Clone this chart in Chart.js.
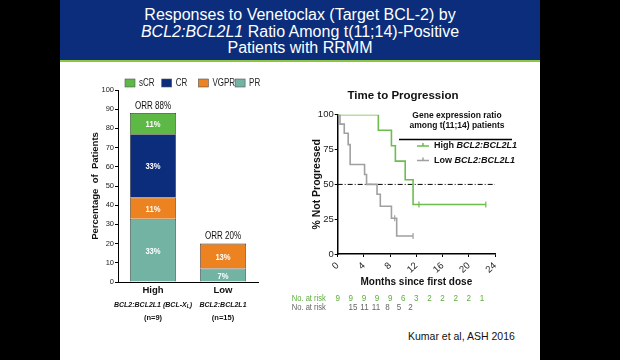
<!DOCTYPE html>
<html>
<head>
<meta charset="utf-8">
<script src="https://cdn.jsdelivr.net/npm/chart.js@4.4.0/dist/chart.umd.min.js"></script>
<style>
  body { margin: 0; background: #000; width: 620px; height: 360px; overflow: hidden; font-family: "Liberation Sans", Arial, sans-serif; }
  #slide { position: absolute; left: 60px; top: 0; width: 480px; height: 360px; background: #fff; }
  #band { position: absolute; left: 0; top: 0; width: 480px; height: 60px; background: #0b2d7b; border-bottom: 2px solid #8dc63f; }
  #title { position: absolute; left: 0; top: 7px; width: 480px; text-align: center; color: #fff; font-size: 16px; line-height: 16.5px; }
  #cite { position: absolute; left: 348px; top: 330px; font-size: 10.5px; color: #111; }
  canvas { position: absolute; }
</style>
</head>
<body>
<div id="slide">
  <div id="band"><div id="title">Responses to Venetoclax (Target BCL-2) by<br><i>BCL2:BCL2L1</i> Ratio Among t(11;14)-Positive<br>Patients with RRMM</div></div>
  <div id="cite">Kumar et al, ASH 2016</div>
</div>
<canvas id="bars" width="262" height="262" style="left:60px;top:70px"></canvas>
<canvas id="ttp" width="255" height="240" style="left:285px;top:80px"></canvas>
<script>
// response bars
const groups = ['High', 'Low'];
const ratioLabels = ['BCL2:BCL2L1 (BCL-X_L)', 'BCL2:BCL2L1'];
const nLabels = ['(n=9)', '(n=15)'];
const prVals = [33, 7];
const vgprVals = [11, 13];
const crVals = [33, 0];
const scrVals = [11, 0];

// time to progression
const highMonths = [0, 6.2, 8.2, 8.8, 10.3, 11.5, 22.6];
const highPct = [100, 88.9, 77.8, 66.7, 53.3, 35.6, 35.6];
const lowMonths = [0, 0.35, 1.0, 1.6, 1.9, 4.1, 4.4, 6.0, 6.5, 8.2, 9.0, 11.5];
const lowPct = [100, 93.3, 86.7, 78.6, 64.3, 57.1, 50, 42.9, 34.3, 25.7, 12.9, 12.9];
const highCensorMonths = [12.4, 22.6];
const highCensorPct = [35.6, 35.6];
const lowCensorMonths = [8.7, 11.5];
const lowCensorPct = [25.7, 12.9];
const riskMonths = [0, 2, 4, 6, 8, 10, 12, 14, 16, 18, 20, 22];
const riskHigh = [9, 9, 9, 9, 9, 6, 3, 2, 2, 2, 2, 1];
const riskLow = [15, 11, 11, 8, 5, 2];

Chart.defaults.font.family = '"Liberation Sans", Arial, sans-serif';
Chart.defaults.color = '#111';

const green = '#6cbd4c';
const gray = '#a0a0a0';

// squeezed text, the slide uses a narrow face
function narrowText(ctx, text, x, y, k) {
  ctx.save();
  ctx.translate(x, y);
  ctx.scale(k || 0.84, 1);
  ctx.fillText(text, 0, 0);
  ctx.restore();
}

// labels inside the bars, ORR on top, legend and sub labels
const barExtras = {
  id: 'barExtras',
  afterDraw(chart) {
    const ctx = chart.ctx;
    const xs = chart.scales.x, ys = chart.scales.y;
    ctx.save();
    ctx.textAlign = 'center';
    ctx.textBaseline = 'middle';
    ctx.font = 'bold 9.5px "Liberation Sans", Arial';
    ctx.fillStyle = '#fff';
    chart.data.datasets.forEach((ds, i) => {
      chart.getDatasetMeta(i).data.forEach((bar, j) => {
        if (!ds.data[j]) return;
        narrowText(ctx, ds.data[j] + '%', bar.x, (bar.y + bar.base) / 2 + 1, 0.8);
      });
    });
    ctx.fillStyle = '#111';
    ctx.font = '10px "Liberation Sans", Arial';
    groups.forEach((g, j) => {
      let total = 0;
      chart.data.datasets.forEach(ds => total += ds.data[j]);
      narrowText(ctx, 'ORR ' + total + '%', xs.getPixelForValue(j), ys.getPixelForValue(total) - 7, 0.8);
    });
    // sub labels
    groups.forEach((g, j) => {
      const x = xs.getPixelForValue(j);
      const parts = ratioLabels[j].split('_');
      ctx.font = 'italic bold 7px "Liberation Sans", Arial';
      const w0 = ctx.measureText(parts[0]).width;
      let w1 = 0, w2 = 0;
      if (parts[1]) {
        ctx.font = 'italic bold 5px "Liberation Sans", Arial';
        w1 = ctx.measureText('L').width;
        ctx.font = 'italic bold 7px "Liberation Sans", Arial';
        w2 = ctx.measureText(')').width;
      }
      const sx = x - (w0 + w1 + w2) / 2;
      ctx.textAlign = 'left';
      ctx.font = 'italic bold 7px "Liberation Sans", Arial';
      ctx.fillText(parts[0], sx, 235);
      if (parts[1]) {
        ctx.font = 'italic bold 5px "Liberation Sans", Arial';
        ctx.fillText('L', sx + w0, 237);
        ctx.font = 'italic bold 7px "Liberation Sans", Arial';
        ctx.fillText(')', sx + w0 + w1, 235);
      }
      ctx.textAlign = 'center';
      ctx.font = 'bold 7.5px "Liberation Sans", Arial';
      ctx.fillText(nLabels[j], x, 248);
    });
    // legend
    const order = chart.data.datasets.slice().reverse();
    ctx.textAlign = 'left';
    ctx.font = '10px "Liberation Sans", Arial';
    order.forEach((ds, k) => {
      const lx = 65 + k * 36.7;
      ctx.fillStyle = ds.backgroundColor;
      ctx.fillRect(lx, 9, 10, 8);
      ctx.strokeStyle = '#555';
      ctx.lineWidth = 0.6;
      ctx.strokeRect(lx, 9, 10, 8);
      ctx.fillStyle = '#222';
      narrowText(ctx, ds.label, lx + 14, 13.5, 0.8);
    });
    ctx.restore();
  }
};

new Chart(document.getElementById('bars'), {
  type: 'bar',
  data: {
    labels: groups,
    datasets: [
      { label: 'PR', data: prVals, backgroundColor: '#72b3a3' },
      { label: 'VGPR', data: vgprVals, backgroundColor: '#ec8220' },
      { label: 'CR', data: crVals, backgroundColor: '#0c2c7c' },
      { label: 'sCR', data: scrVals, backgroundColor: '#5db846' }
    ].map(d => Object.assign(d, { borderColor: '#333', borderWidth: 0.8, barPercentage: 0.66, categoryPercentage: 1 }))
  },
  options: {
    responsive: false,
    animation: false,
    layout: { padding: { left: 30, top: 20, right: 64, bottom: 0 } },
    plugins: { legend: { display: false }, tooltip: { enabled: false } },
    scales: {
      x: {
        stacked: true,
        grid: { display: false, drawTicks: false },
        border: { color: '#000', width: 1 },
        ticks: { font: { size: 9.5, weight: 'bold' }, color: '#111', padding: 3 },
        afterFit(s) { s.height = 50; }
      },
      y: {
        stacked: true,
        min: 0, max: 100,
        grid: { drawOnChartArea: false, tickLength: 3, color: '#000' },
        border: { color: '#000', width: 1 },
        ticks: { stepSize: 10, font: { size: 7.5 }, color: '#222', padding: 1 },
        title: { display: true, text: 'Percentage  of  Patients', font: { size: 9.5, weight: 'bold' }, color: '#111', padding: 0 },
        afterFit(s) { s.width = 28; }
      }
    }
  },
  plugins: [barExtras]
});

// legend box and risk table for the progression chart
const ttpExtras = {
  id: 'ttpExtras',
  afterDraw(chart) {
    const ctx = chart.ctx;
    const xs = chart.scales.x;
    ctx.save();
    ctx.fillStyle = '#111';
    ctx.textAlign = 'center';
    ctx.textBaseline = 'middle';
    ctx.font = 'bold 8.5px "Liberation Sans", Arial';
    ctx.fillText('Gene expression ratio', 172, 36);
    ctx.fillText('among t(11;14) patients', 172, 45.5);
    ctx.strokeStyle = '#000';
    ctx.lineWidth = 1.5;
    ctx.beginPath(); ctx.moveTo(114, 59.5); ctx.lineTo(227, 59.5); ctx.stroke();
    [[green, 'High '], [gray, 'Low ']].forEach((it, k) => {
      const y = 66 + k * 14.5;
      ctx.strokeStyle = it[0];
      ctx.lineWidth = 1.5;
      ctx.beginPath(); ctx.moveTo(132, y); ctx.lineTo(144, y); ctx.moveTo(138, y); ctx.lineTo(138, y - 3); ctx.stroke();
      ctx.textAlign = 'left';
      ctx.fillStyle = '#111';
      ctx.font = 'bold 9px "Liberation Sans", Arial';
      ctx.fillText(it[1], 149, y);
      const w = ctx.measureText(it[1]).width;
      ctx.font = 'italic bold 9px "Liberation Sans", Arial';
      ctx.fillText('BCL2:BCL2L1', 149 + w, y);
    });
    // risk table
    ctx.font = '9.5px "Liberation Sans", Arial';
    ctx.textAlign = 'left';
    ctx.fillStyle = '#5cae3c';
    narrowText(ctx, 'No. at risk', 6.7, 218, 0.8);
    ctx.textAlign = 'center';
    riskHigh.forEach((n, i) => narrowText(ctx, String(n), xs.getPixelForValue(riskMonths[i]), 218, 0.85));
    ctx.fillStyle = '#666';
    ctx.textAlign = 'left';
    narrowText(ctx, 'No. at risk', 6.7, 227, 0.8);
    ctx.textAlign = 'center';
    riskLow.forEach((n, i) => narrowText(ctx, String(n), 68 + i * 11.5, 227, 0.85));
    ctx.restore();
  }
};

const pts = (xs, ys) => xs.map((x, i) => ({ x: x, y: ys[i] }));

new Chart(document.getElementById('ttp'), {
  type: 'line',
  data: {
    datasets: [
      { data: pts(highMonths, highPct), borderColor: green, borderWidth: 1.6, stepped: true, pointRadius: 0 },
      { data: pts(lowMonths, lowPct), borderColor: gray, borderWidth: 1.6, stepped: true, pointRadius: 0 },
      { data: pts([0, 24], [50, 50]), borderColor: '#000', borderWidth: 1, borderDash: [5, 2, 1, 2], pointRadius: 0 },
      { data: pts(highCensorMonths, highCensorPct), showLine: false, pointStyle: 'line', rotation: 90, pointRadius: 3, borderColor: green, borderWidth: 1.2 },
      { data: pts(lowCensorMonths, lowCensorPct), showLine: false, pointStyle: 'line', rotation: 90, pointRadius: 3, borderColor: gray, borderWidth: 1.2 }
    ]
  },
  options: {
    responsive: false,
    animation: false,
    layout: { padding: { left: 26, right: 45, top: 0, bottom: 30 } },
    plugins: {
      legend: { display: false },
      tooltip: { enabled: false },
      title: { display: true, text: 'Time to Progression', font: { size: 11.5, weight: 'bold' }, color: '#111', padding: { top: 9, bottom: 12 } }
    },
    scales: {
      x: {
        type: 'linear', min: 0, max: 24,
        grid: { drawOnChartArea: false, tickLength: 3, color: '#000' },
        border: { color: '#000', width: 1.5 },
        ticks: { stepSize: 2, font: { size: 9.5 }, color: '#222', padding: 3 },
        title: { display: true, text: 'Months since first dose', font: { size: 10, weight: 'bold' }, color: '#111', padding: { top: 0, bottom: 2 } },
        afterFit(s) { s.height = 36; }
      },
      y: {
        min: 0, max: 100,
        grid: { drawOnChartArea: false, tickLength: 3, color: '#000' },
        border: { color: '#000', width: 1.5 },
        ticks: { stepSize: 25, font: { size: 9.5 }, color: '#222', padding: 1 },
        title: { display: true, text: '% Not Progressed', font: { size: 10.5, weight: 'bold' }, color: '#111', padding: 0 },
        afterFit(s) { s.width = 26.7; }
      }
    }
  },
  plugins: [ttpExtras]
});
</script>
</body>
</html>
